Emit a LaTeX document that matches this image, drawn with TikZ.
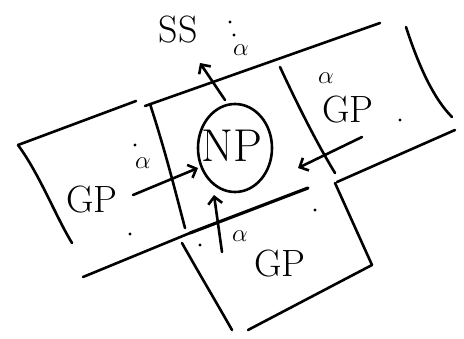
\documentclass[tikz,border=0pt]{standalone}
\usepackage{amsmath}
\usepackage{tikz}
\usetikzlibrary{arrows.meta,shapes.geometric}

\begin{document}
\begin{tikzpicture}[x=1pt,y=-1pt,
        stroke/.style={line width=2.6pt, line cap=round, line join=round},
        flux/.style={stroke, -{Straight Barb[length=7pt,width=14pt]}},
        big/.style={font=\fontsize{38}{40}\selectfont, inner sep=0pt},
        small/.style={font=\fontsize{28}{30}\selectfont, inner sep=0pt}]
        \useasboundingbox (0,0) rectangle (464,338);

        % Define colors
        \definecolor{ink}{RGB}{0,0,0}

        % Cell walls
        \draw[stroke] (145,106) -- (380,23);
        \draw[stroke] (18,145) -- (136,101);
        \draw[stroke] (18,145) .. controls (40,175) and (55,215) .. (72,243);
        \draw[stroke] (150,104) .. controls (165,150) and (175,190) .. (185,228);
        \draw[stroke] (280,67) .. controls (300,110) and (318,145) .. (335,173);
        \draw[stroke] (83,277) -- (190,233);
        \draw[stroke, line width=3.2pt] (190,233) -- (308,188);
        \draw[stroke] (337,182) -- (455,130);
        \draw[stroke] (406,27) .. controls (420,70) and (435,100) .. (452,117);
        \draw[stroke] (182,243) .. controls (200,275) and (215,300) .. (232,330);
        \draw[stroke] (335,183) -- (372,265);
        \draw[stroke] (248,330) -- (372,265);

        % Particle in the middle
        \node[draw, stroke, ellipse, minimum width=74pt, minimum height=88pt] (np) at (235,148) {};
        \node[big, font=\fontsize{46}{48}\selectfont] (nplabel) at (232,146) {NP};

        % Labels of the cells
        \node[big] (ss) at (178,30) {SS};
        \node[big] (gpleft) at (92,200) {GP};
        \node[big] (gpright) at (348,110) {GP};
        \node[big] (gpbottom) at (280,264) {GP};

        % Arrows
        \coordinate (toptail) at (225,100);
        \coordinate (tophead) at (200,63);
        \coordinate (lefttail) at (133,195);
        \coordinate (lefthead) at (198,168);
        \coordinate (righttail) at (362,137);
        \coordinate (righthead) at (298,168);
        \coordinate (bottomtail) at (222,252);
        \coordinate (bottomhead) at (214,195);
        \draw[flux] (toptail) -- (tophead);
        \draw[flux] (lefttail) -- (lefthead);
        \draw[flux] (righttail) -- (righthead);
        \draw[flux] (bottomtail) -- (bottomhead);

        \node[small] (atop) at (241,50) {$\alpha$};
        \node[small] (aleft) at (143,163) {$\alpha$};
        \node[small] (aright) at (326,78) {$\alpha$};
        \node[small] (abottom) at (240,236) {$\alpha$};

        % Dots
        \foreach \x/\y in {230/22, 234/35, 135/145, 130/234, 400/120, 315/210, 200/245} {
                \fill[ink] (\x,\y) circle (1.6pt);
            }

    \end{tikzpicture}
\end{document}
